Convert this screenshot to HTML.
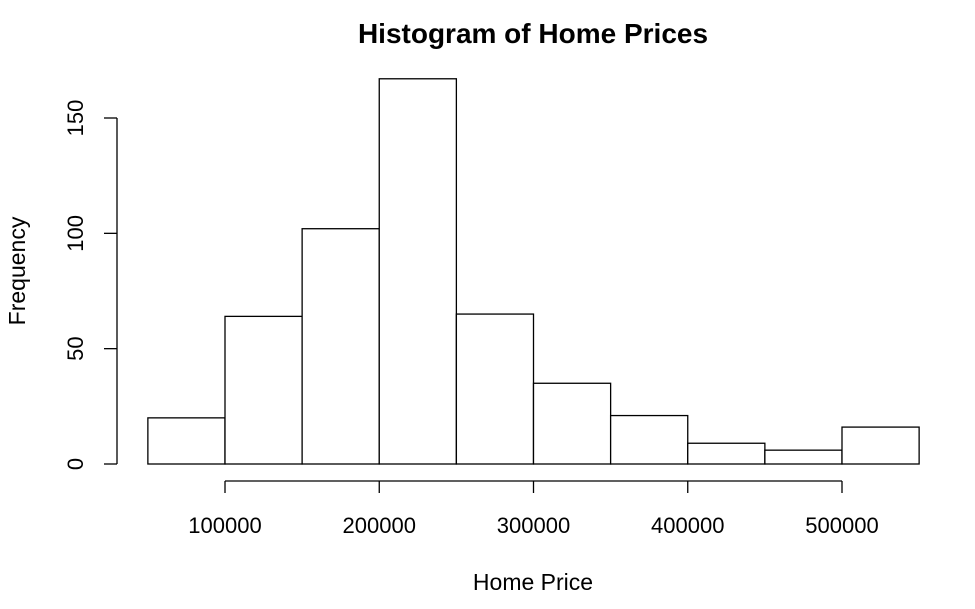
<!DOCTYPE html>
<html><head><meta charset="utf-8"><style>body{margin:0;background:#fff}svg{display:block;font-family:"Liberation Sans",Arial,sans-serif}</style></head>
<body>
<svg id="c" width="975" height="609">
<text x="533" y="43" text-anchor="middle" font-size="28" font-weight="bold">Histogram of Home Prices</text>
<text x="533" y="590" text-anchor="middle" font-size="23">Home Price</text>
<text transform="translate(25,271) rotate(-90)" text-anchor="middle" font-size="23">Frequency</text>
<g id="bars"></g><g id="xa"></g><g id="ya"></g>
</svg>
<script>
const binStarts=[50000,100000,150000,200000,250000,300000,350000,400000,450000,500000];
const binWidth=50000;
const counts=[20,64,102,167,65,35,21,9,6,16];
const xTicks=[100000,200000,300000,400000,500000];
const yTicks=[0,50,100,150];
const NS='http://www.w3.org/2000/svg';
const sx=v=>225+(v-100000)*(617/400000);
const sy=v=>464-v*(346/150);
function mk(t,a,p){const e=document.createElementNS(NS,t);for(const k in a)e.setAttribute(k,a[k]);p.appendChild(e);return e;}
const bars=document.getElementById('bars');
binStarts.forEach((b,i)=>{
 const r=mk('rect',{x:sx(b),y:sy(counts[i]),width:sx(b+binWidth)-sx(b),height:sy(0)-sy(counts[i]),fill:'#fff',stroke:'#000','stroke-width':1.3},bars);
 
 
});
const xa=document.getElementById('xa');
const xl=mk('line',{x1:sx(xTicks[0]),x2:sx(xTicks[xTicks.length-1]),y1:481,y2:481,stroke:'#000','stroke-width':1.3},xa);


xTicks.forEach(t=>{
 mk('line',{x1:sx(t),x2:sx(t),y1:481,y2:493,stroke:'#000','stroke-width':1.3},xa);
 const tx=mk('text',{x:sx(t),y:533,'text-anchor':'middle','font-size':22},xa);tx.textContent=t;
 
 
});
const ya=document.getElementById('ya');
const yl=mk('line',{x1:117,x2:117,y1:sy(yTicks[0]),y2:sy(yTicks[yTicks.length-1]),stroke:'#000','stroke-width':1.3},ya);


yTicks.forEach(t=>{
 mk('line',{x1:104,x2:117,y1:sy(t),y2:sy(t),stroke:'#000','stroke-width':1.3},ya);
 const tx=mk('text',{transform:`translate(83,${sy(t)}) rotate(-90)`,'text-anchor':'middle','font-size':22},ya);tx.textContent=t;
 
 
});
</script>
</body></html>
